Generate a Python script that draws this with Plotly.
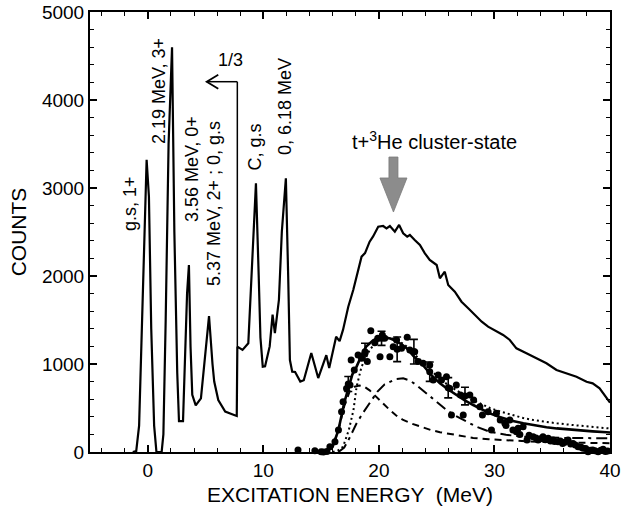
import plotly.graph_objects as go

# ---------------- data ----------------
spec_E = [-1.3, -1.0, -0.75, -0.5, -0.3, -0.1, 0.1, 0.3, 0.55, 0.75, 1.2, 1.35, 1.55, 1.8, 2.1,
          2.3, 2.55, 2.7, 3.05, 3.2, 3.4, 3.56, 3.7, 3.85, 4.15, 4.6, 4.9, 5.3, 5.6, 5.75,
          6.1, 6.7, 7.3, 7.7, 7.75, 8.2, 8.7, 9.0, 9.36, 9.6, 9.75, 9.95, 10.15, 10.55, 10.8,
          11.0, 11.35, 11.6, 11.95, 12.15, 12.3, 12.5, 12.75, 13.2, 13.5, 14.15, 14.75, 15.45,
          15.7, 16.3, 16.6, 16.9, 17.35, 17.78, 18.2, 18.5, 18.8, 19.2, 19.5, 19.94, 20.37,
          20.66, 20.95, 21.38, 21.75, 22.1, 22.45, 22.68, 23.1, 23.55, 23.98, 24.4, 25.0,
          25.28, 25.7, 26.0, 26.57, 27.15, 27.73, 28.3, 28.9, 29.45, 30.17, 30.75, 31.33,
          31.9, 32.77, 33.64, 34.5, 35.37, 36.24, 37.1, 37.97, 38.5, 39.1, 39.7, 40.0]
spec_C = [0, 10, 300, 1500, 2600, 3320, 2900, 1400, 300, 0, 0, 200, 1500, 3500, 4600,
          2500, 900, 350, 350, 900, 1800, 2125, 1200, 650, 530, 610, 1000, 1545, 1000, 800,
          590, 460, 430, 410, 1197, 1160, 1235, 2000, 3053, 2000, 1300, 970, 975, 1200, 1560,
          1350, 1730, 2500, 3110, 2000, 1045, 913, 910, 800, 815, 1125, 840, 1100,
          955, 1310, 1260, 1390, 1650, 1840, 2050, 2220, 2260, 2390, 2450, 2560, 2568,
          2542, 2568, 2504, 2580, 2485, 2447, 2466, 2409, 2352, 2258, 2182, 2125,
          1974, 2049, 1898, 1822, 1708, 1633, 1557, 1481, 1424, 1367, 1330, 1273,
          1178, 1121, 1065, 1008, 932, 894, 856, 799, 780, 723, 610, 560]

# coincidence data points
pts_E = [13.0, 14.46, 15.0, 15.2, 15.5, 15.76, 16.2, 16.5, 16.77, 16.9, 17.2, 17.5, 17.6, 17.87,
         18.2, 18.5, 18.8, 19.0, 19.3, 19.65, 19.9, 20.1, 20.3, 20.5, 20.95, 21.24, 21.53,
         21.96, 22.45, 22.68, 23.1, 23.4, 23.83, 24.4, 24.7, 25.13, 25.42, 25.85, 26.14,
         26.28, 26.7, 27.06, 27.3, 27.87, 28.2, 28.74, 28.96, 29.45, 29.74, 30.17, 30.5,
         30.9, 31.0, 31.33, 31.6, 31.9, 32.05, 32.2, 32.48, 32.82, 33.0, 33.35, 33.6, 33.78,
         34.0, 34.2, 34.4, 34.65, 34.85, 35.08, 35.2, 35.5, 35.7, 35.9, 36.1, 36.37, 36.6, 36.8,
         37.0, 37.24, 37.5, 37.67, 37.9, 38.1, 38.3, 38.5, 38.7, 38.97, 39.2, 39.4, 39.6, 39.8]
pts_C = [23, 15, 3, 0, 5, 60, 117, 250, 458, 572, 723, 761, 1045, 932,
         1102, 1065, 1121, 1027, 1378, 1242, 1292, 1083, 1330, 1292, 1083, 1197, 1273,
         1178, 1303, 1159, 1140, 1027, 1008, 989, 818, 875, 818, 856, 723,
         420, 761, 648, 420, 648, 591, 515, 420, 458, 250, 439, 364,
         326, 300, 364, 250, 230, 269, 200, 288, 136, 190, 174, 160, 136,
         150, 174, 140, 155, 125, 136, 120, 117, 125, 98, 110, 136, 90, 98,
         80, 60, 55, 42, 40, 4, 20, 23, 15, 4, 20, 30, 5, 10]

# points carrying error bars
err_E = [17.35, 18.8, 20.23, 21.58, 23.03, 24.4, 26.0, 27.45]
err_C = [773, 1140, 1292, 1167, 1140, 913, 730, 636]
err_D = [85, 95, 80, 140, 140, 110, 115, 100]

# calculated curves
tot_E = [15.0, 15.5, 16.0, 16.5, 17.0, 17.35, 17.7, 18.07, 18.5, 18.9, 19.5, 20.0, 20.5, 21.0,
         21.5, 22.0, 22.4, 23.0, 23.8, 24.5, 25.28, 26.0, 26.7, 27.4, 28.16, 29.0, 29.6, 30.5,
         31.5, 32.5, 33.5, 34.5, 35.4, 36.5, 37.5, 38.5, 39.7, 40.0]
tot_C = [0, 10, 60, 250, 560, 723, 880, 970, 1100, 1197, 1270, 1300, 1300, 1290,
         1260, 1220, 1180, 1090, 989, 880, 780, 710, 648, 590, 534, 480, 439, 395,
         355, 326, 300, 282, 268, 254, 243, 234, 224, 222]

dot_E = [16.0, 16.5, 16.9, 17.4, 17.8, 18.07, 18.5, 19.2, 19.7, 20.2, 20.7, 21.2, 21.7, 22.4,
         23.0, 23.8, 24.5, 25.28, 26.0, 26.7, 27.4, 28.16, 29.0, 29.6, 30.5, 31.5, 32.5, 33.5,
         34.5, 35.4, 36.5, 37.5, 38.5, 39.7, 40.0]
dot_C = [0, 20, 60, 250, 477, 742, 970, 1159, 1240, 1285, 1300, 1290, 1265, 1200,
         1120, 1020, 930, 830, 760, 700, 645, 590, 540, 500, 460, 420, 386, 360,
         340, 326, 310, 295, 282, 270, 268]

dash_E = [15.5, 16.0, 16.5, 17.0, 17.5, 17.9, 18.3, 18.7, 19.2, 19.9, 20.5, 20.95, 21.5, 22.1,
          22.9, 23.8, 24.5, 25.28, 26.5, 27.5, 28.16, 29.5, 31.04, 33.0, 35.4, 37.5, 40.0]
dash_C = [0, 60, 250, 520, 700, 742, 755, 745, 700, 610, 530, 477, 415, 364,
          320, 280, 250, 225, 195, 172, 160, 145, 132, 120, 110, 104, 100]

dd_E = [16.5, 17.0, 17.5, 18.07, 18.6, 19.2, 19.9, 20.5, 20.95, 21.5, 22.1, 22.7, 23.25, 23.8,
        24.4, 25.1, 25.85, 26.5, 27.3, 28.4, 29.6, 31.0, 32.5, 34.0, 36.0, 38.0, 40.0]
dd_C = [0, 50, 170, 326, 440, 553, 690, 770, 800, 830, 837, 810, 761, 700,
        629, 550, 477, 420, 364, 290, 230, 195, 175, 165, 160, 158, 155]

# tick labels
x_ticks = [0, 10, 20, 30, 40]
y_ticks = [0, 1000, 2000, 3000, 4000, 5000]

# level labels: (text, E, counts)
lvl_text = ["g.s, 1+", "2.19 MeV, 3+", "3.56 MeV, 0+", "5.37 MeV, 2+ ; 0, g.s",
            "C, g.s", "0, 6.18 MeV"]
lvl_E = [-1.54, 0.97, 3.78, 5.77, 9.24, 11.83]
lvl_C = [2830, 4102, 3220, 2824, 3466, 3926]

FONT = "Liberation Sans, Arial, Helvetica, sans-serif"

fig = go.Figure()

fig.add_trace(go.Scatter(x=spec_E, y=spec_C, mode="lines",
                         line=dict(color="black", width=2.2), name="singles"))
fig.add_trace(go.Scatter(x=dash_E, y=dash_C, mode="lines",
                         line=dict(color="black", width=2, dash="7px,5px"), name="dashed"))
fig.add_trace(go.Scatter(x=dd_E, y=dd_C, mode="lines",
                         line=dict(color="black", width=2, dash="11px,5px,3px,5px"), name="dash-dot"))
fig.add_trace(go.Scatter(x=dot_E, y=dot_C, mode="lines",
                         line=dict(color="black", width=2, dash="2px,3px"), name="dotted"))
fig.add_trace(go.Scatter(x=tot_E, y=tot_C, mode="lines",
                         line=dict(color="black", width=2.6), name="total"))
fig.add_trace(go.Scatter(x=pts_E, y=pts_C, mode="markers", cliponaxis=False,
                         marker=dict(color="black", size=7), name="data"))
fig.add_trace(go.Scatter(x=err_E, y=err_C, mode="markers",
                         marker=dict(color="black", size=7),
                         error_y=dict(type="data", array=err_D, color="black",
                                      thickness=1.6, width=4), name="err"))

# "1/3" scale marker: vertical line and left arrow
SC_X, SC_Y, SC_TIP, SC_BOT = 7.75, 4208, 5.1, 1197
fig.add_shape(type="line", x0=SC_X, x1=SC_X, y0=SC_BOT, y1=SC_Y,
              line=dict(color="black", width=1.5))
fig.add_shape(type="line", x0=SC_TIP, x1=SC_X, y0=SC_Y, y1=SC_Y,
              line=dict(color="black", width=1.5))
HEAD_L, HEAD_H = 1.0, 80
fig.add_shape(type="path",
              path=f"M {SC_TIP + HEAD_L},{SC_Y + HEAD_H} L {SC_TIP},{SC_Y} L {SC_TIP + HEAD_L},{SC_Y - HEAD_H}",
              line=dict(color="black", width=1.8))
fig.add_annotation(x=7.2, y=4455, text="1/3", showarrow=False,
                   font=dict(size=18, color="black", family=FONT))

# gray cluster-state arrow
AX, A_TOP, A_BASE, A_TIP, A_SH, A_HW = 21.26, 3352, 3114, 2727, 0.39, 1.17
fig.add_shape(type="path",
              path=(f"M {AX - A_SH},{A_TOP} L {AX + A_SH},{A_TOP} L {AX + A_SH},{A_BASE} "
                    f"L {AX + A_HW},{A_BASE} L {AX},{A_TIP} L {AX - A_HW},{A_BASE} "
                    f"L {AX - A_SH},{A_BASE} Z"),
              fillcolor="#8c8c8c", line=dict(color="#7a7a7a", width=0.8))
fig.add_annotation(x=24.85, y=3545, text="t+<sup>3</sup>He cluster-state", showarrow=False,
                   font=dict(size=20, color="black", family=FONT))

for t, e, c in zip(lvl_text, lvl_E, lvl_C):
    fig.add_annotation(x=e, y=c, text=t, textangle=-90, showarrow=False,
                       xanchor="center", yanchor="middle",
                       font=dict(size=18, color="black", family=FONT))

axis_common = dict(showline=True, linecolor="black", linewidth=2, mirror="allticks",
                   ticks="inside", ticklen=7, tickwidth=1.5, tickcolor="black",
                   showgrid=False, zeroline=False,
                   tickfont=dict(size=19, color="black", family=FONT))

fig.update_xaxes(range=[-5, 40], tickvals=x_ticks, ticktext=[str(v) for v in x_ticks],
                 minor=dict(dtick=2, tick0=0, ticks="inside", ticklen=4, tickwidth=1.2,
                            tickcolor="black", showgrid=False),
                 title=dict(text="EXCITATION ENERGY  (MeV)", standoff=8,
                            font=dict(size=21, color="black", family=FONT)),
                 **axis_common)
fig.update_yaxes(range=[0, 5000], tickvals=y_ticks, ticktext=[str(v) for v in y_ticks],
                 minor=dict(dtick=200, tick0=0, ticks="inside", ticklen=4, tickwidth=1.2,
                            tickcolor="black", showgrid=False),
                 title=dict(text="COUNTS", standoff=10,
                            font=dict(size=21, color="black", family=FONT)),
                 **axis_common)

fig.update_layout(width=624, height=510, showlegend=False,
                  margin=dict(l=90, r=14, t=12, b=58, autoexpand=False),
                  plot_bgcolor="white", paper_bgcolor="white",
                  font=dict(family=FONT, color="black"))

fig.write_html("out.html", config={"displayModeBar": False},
               post_script="document.body.style.margin='0px';document.body.style.overflow='hidden';")
